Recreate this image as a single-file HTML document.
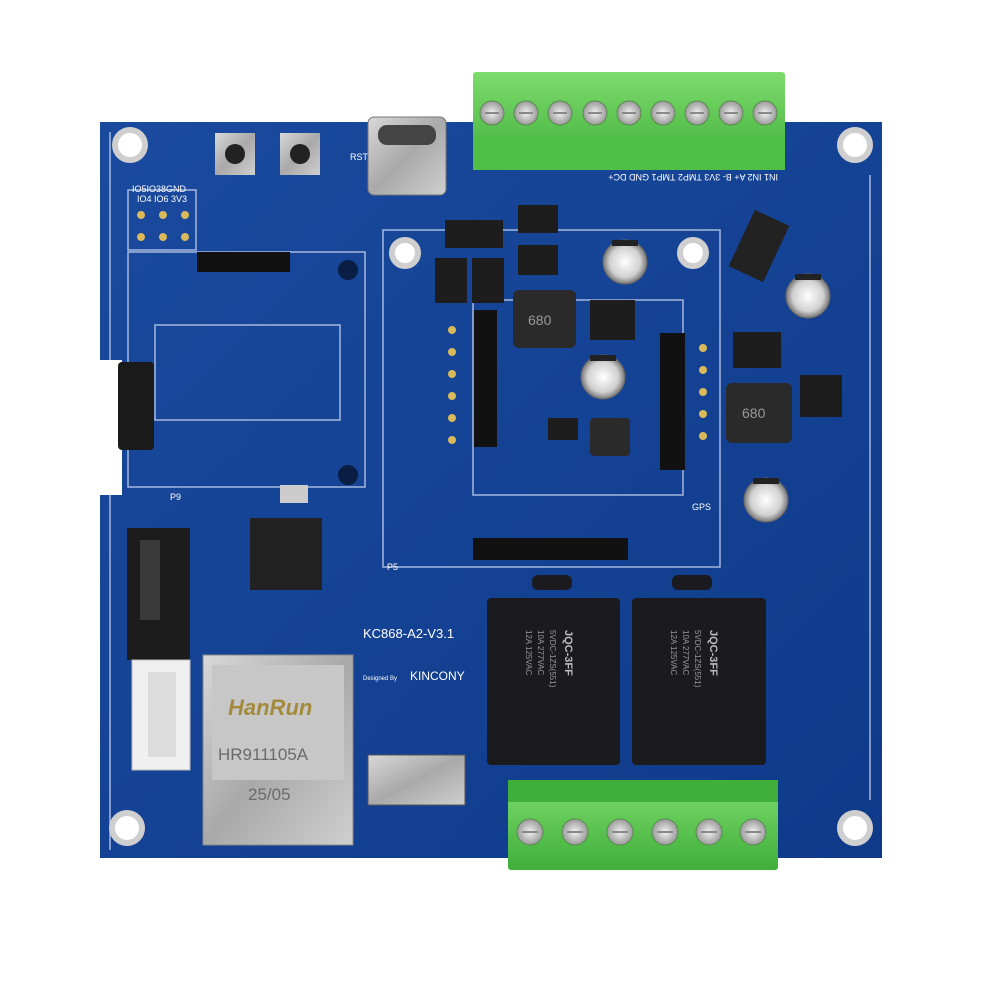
<!DOCTYPE html>
<html><head><meta charset="utf-8"><style>
html,body{margin:0;padding:0;background:#fff;width:1000px;height:1000px;overflow:hidden}
svg{display:block}
text{font-family:"Liberation Sans",sans-serif}
</style></head><body>
<svg width="1000" height="1000" viewBox="0 0 1000 1000" xmlns="http://www.w3.org/2000/svg">
<defs>
<linearGradient id="bd" x1="0" y1="0" x2="1" y2="1"><stop offset="0" stop-color="#1a4a9e"/><stop offset="1" stop-color="#0f3a8a"/></linearGradient>
<linearGradient id="met" x1="0" y1="0" x2="1" y2="1"><stop offset="0" stop-color="#d8d8d8"/><stop offset=".5" stop-color="#a9a9a9"/><stop offset="1" stop-color="#cfcfcf"/></linearGradient>
<linearGradient id="grn" x1="0" y1="0" x2="0" y2="1"><stop offset="0" stop-color="#7ddc6c"/><stop offset="1" stop-color="#3fae3a"/></linearGradient>
<radialGradient id="scr"><stop offset="0" stop-color="#f2f2f2"/><stop offset="1" stop-color="#9a9a9a"/></radialGradient>
<radialGradient id="cap"><stop offset="0" stop-color="#ffffff"/><stop offset=".7" stop-color="#d0d0d0"/><stop offset="1" stop-color="#777"/></radialGradient>
</defs>
<rect width="1000" height="1000" fill="#fff"/>
<path d="M100,122 H882 V858 H100 V495 H122 V360 H100 Z" fill="url(#bd)"/>
<g fill="none" stroke="#c8d6f0" stroke-width="1.5" opacity=".8">
<rect x="383" y="230" width="337" height="337"/>
<rect x="473" y="300" width="210" height="195"/>
<rect x="128" y="252" width="237" height="235"/>
<rect x="155" y="325" width="185" height="95"/>
<rect x="128" y="190" width="68" height="60"/>
<line x1="110" y1="132" x2="110" y2="360"/><line x1="110" y1="495" x2="110" y2="850"/><line x1="870" y1="175" x2="870" y2="800"/>
</g>
<g fill="#fff" stroke="#cfcfcf" stroke-width="6">
<circle cx="130" cy="145" r="15"/><circle cx="855" cy="145" r="15"/>
<circle cx="127" cy="828" r="15"/><circle cx="855" cy="828" r="15"/>
<circle cx="405" cy="253" r="13"/><circle cx="693" cy="253" r="13"/>
</g>
<circle cx="348" cy="270" r="10" fill="#0a1e44"/><circle cx="348" cy="475" r="10" fill="#0a1e44"/>
<rect x="473" y="72" width="312" height="98" rx="3" fill="url(#grn)"/>
<rect x="473" y="135" width="312" height="35" fill="#4fbf45"/>
<g fill="url(#scr)" stroke="#5a8a50" stroke-width="1">
<circle cx="492" cy="113" r="12"/><circle cx="526" cy="113" r="12"/><circle cx="560" cy="113" r="12"/><circle cx="595" cy="113" r="12"/><circle cx="629" cy="113" r="12"/><circle cx="663" cy="113" r="12"/><circle cx="697" cy="113" r="12"/><circle cx="731" cy="113" r="12"/><circle cx="765" cy="113" r="12"/>
</g>
<g stroke="#888" stroke-width="2"><path d="M485,113h14M519,113h14M553,113h14M588,113h14M622,113h14M656,113h14M690,113h14M724,113h14M758,113h14"/></g>
<g font-size="9" fill="#fff" transform="rotate(180 628 178)"><text x="478" y="182">IN1  IN2  A+  B-  3V3  TMP2 TMP1 GND DC+</text></g>
<rect x="508" y="780" width="270" height="90" rx="3" fill="url(#grn)"/>
<rect x="508" y="780" width="270" height="22" fill="#3fae3a"/>
<g fill="url(#scr)" stroke="#5a8a50" stroke-width="1">
<circle cx="530" cy="832" r="13"/><circle cx="575" cy="832" r="13"/><circle cx="620" cy="832" r="13"/><circle cx="665" cy="832" r="13"/><circle cx="709" cy="832" r="13"/><circle cx="753" cy="832" r="13"/>
</g>
<g stroke="#888" stroke-width="2"><path d="M522,832h16M567,832h16M612,832h16M657,832h16M701,832h16M745,832h16"/></g>
<rect x="487" y="598" width="133" height="167" rx="4" fill="#1b1b1f"/>
<rect x="632" y="598" width="134" height="167" rx="4" fill="#1b1b1f"/>
<rect x="532" y="575" width="40" height="15" rx="6" fill="#1b1b1f"/><rect x="672" y="575" width="40" height="15" rx="6" fill="#1b1b1f"/>
<g fill="#bbb" font-size="11" font-weight="bold">
<text transform="translate(565,630) rotate(90)">JQC-3FF</text>
<text transform="translate(710,630) rotate(90)">JQC-3FF</text>
</g>
<g fill="#999" font-size="8">
<text transform="translate(550,630) rotate(90)">5VDC-1ZS(551)</text><text transform="translate(538,630) rotate(90)">10A 277VAC</text><text transform="translate(526,630) rotate(90)">12A 125VAC</text>
<text transform="translate(695,630) rotate(90)">5VDC-1ZS(551)</text><text transform="translate(683,630) rotate(90)">10A 277VAC</text><text transform="translate(671,630) rotate(90)">12A 125VAC</text>
</g>
<rect x="203" y="655" width="150" height="190" fill="url(#met)" stroke="#888"/>
<rect x="212" y="665" width="132" height="115" fill="#c7c7c7"/>
<text x="228" y="715" font-size="22" font-weight="bold" font-style="italic" fill="#a48a3c">HanRun</text>
<text x="218" y="760" font-size="17" fill="#6a6a6a">HR911105A</text>
<text x="248" y="800" font-size="17" fill="#6a6a6a">25/05</text>
<rect x="127" y="528" width="63" height="132" fill="#1c1c1c"/>
<rect x="140" y="540" width="20" height="80" fill="#3a3a3a"/>
<rect x="132" y="660" width="58" height="110" fill="#f0f0f0" stroke="#bbb"/>
<rect x="148" y="672" width="28" height="85" fill="#dcdcdc"/>
<rect x="118" y="362" width="36" height="88" rx="4" fill="#1a1a1a"/>
<rect x="368" y="117" width="78" height="78" rx="6" fill="url(#met)" stroke="#777"/>
<rect x="378" y="125" width="58" height="20" rx="9" fill="#444"/>
<rect x="215" y="133" width="40" height="42" fill="url(#met)"/><circle cx="235" cy="154" r="10" fill="#222"/>
<rect x="280" y="133" width="40" height="42" fill="url(#met)"/><circle cx="300" cy="154" r="10" fill="#222"/>
<g fill="#111">
<rect x="474" y="310" width="23" height="137"/><rect x="660" y="333" width="25" height="137"/>
<rect x="473" y="538" width="155" height="22"/><rect x="197" y="252" width="93" height="20"/>
</g>
<g fill="#d9b95a"><circle cx="452" cy="330" r="4"/><circle cx="452" cy="352" r="4"/><circle cx="452" cy="374" r="4"/><circle cx="452" cy="396" r="4"/><circle cx="452" cy="418" r="4"/><circle cx="452" cy="440" r="4"/>
<circle cx="703" cy="348" r="4"/><circle cx="703" cy="370" r="4"/><circle cx="703" cy="392" r="4"/><circle cx="703" cy="414" r="4"/><circle cx="703" cy="436" r="4"/>
<circle cx="141" cy="215" r="4"/><circle cx="163" cy="215" r="4"/><circle cx="185" cy="215" r="4"/><circle cx="141" cy="237" r="4"/><circle cx="163" cy="237" r="4"/><circle cx="185" cy="237" r="4"/></g>
<rect x="250" y="518" width="72" height="72" fill="#222"/>
<rect x="513" y="290" width="63" height="58" rx="6" fill="#2a2a2a"/><text x="528" y="325" font-size="14" fill="#999">680</text>
<rect x="726" y="383" width="66" height="60" rx="6" fill="#2a2a2a"/><text x="742" y="418" font-size="14" fill="#999">680</text>
<rect x="590" y="418" width="40" height="38" rx="4" fill="#2a2a2a"/>
<rect x="590" y="300" width="45" height="40" fill="#1d1d1d"/><rect x="800" y="375" width="42" height="42" fill="#1d1d1d"/>
<rect x="518" y="205" width="40" height="28" fill="#1d1d1d"/><rect x="518" y="245" width="40" height="30" fill="#1d1d1d"/>
<rect x="445" y="220" width="58" height="28" fill="#1d1d1d"/><rect x="435" y="258" width="32" height="45" fill="#1d1d1d"/><rect x="472" y="258" width="32" height="45" fill="#1d1d1d"/>
<rect x="733" y="332" width="48" height="36" fill="#1d1d1d"/><rect x="548" y="418" width="30" height="22" fill="#1d1d1d"/>
<rect x="280" y="485" width="28" height="18" fill="#ccc"/>
<rect x="740" y="215" width="38" height="62" fill="#222" transform="rotate(25 759 246)"/>
<g stroke="#666"><circle cx="625" cy="262" r="22" fill="url(#cap)"/><circle cx="808" cy="296" r="22" fill="url(#cap)"/><circle cx="603" cy="377" r="22" fill="url(#cap)"/><circle cx="766" cy="500" r="22" fill="url(#cap)"/></g>
<g fill="#222"><rect x="612" y="240" width="26" height="6"/><rect x="795" y="274" width="26" height="6"/><rect x="590" y="355" width="26" height="6"/><rect x="753" y="478" width="26" height="6"/></g>
<rect x="368" y="755" width="97" height="50" fill="url(#met)" stroke="#555"/>
<text x="363" y="638" font-size="13" fill="#fff" font-family="Liberation Mono,monospace">KC868-A2-V3.1</text>
<text x="363" y="680" font-size="6" fill="#fff">Designed By</text><text x="410" y="680" font-size="12" fill="#fff">KINCONY</text>
<text x="132" y="192" font-size="9" fill="#fff">IO5IO38GND</text><text x="137" y="202" font-size="9" fill="#fff">IO4 IO6 3V3</text>
<text x="350" y="160" font-size="9" fill="#fff">RST</text><text x="692" y="510" font-size="9" fill="#fff">GPS</text>
<text x="170" y="500" font-size="9" fill="#fff">P9</text><text x="387" y="570" font-size="9" fill="#fff">P5</text>
</svg>
</body></html>
